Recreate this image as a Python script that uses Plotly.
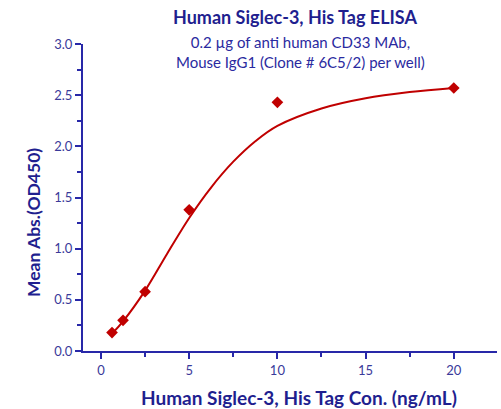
import plotly.graph_objects as go

# Measured data points
conc = [0.625, 1.25, 2.5, 5, 10, 20]
od450 = [0.18, 0.30, 0.58, 1.38, 2.43, 2.57]

# Fitted curve
fit_x = [0.625, 1.25, 2.5, 3.75, 5, 6.25, 7.5, 8.75, 10, 12.5, 15, 17.5, 20]
fit_y = [0.17, 0.29, 0.59, 0.95, 1.30, 1.60, 1.85, 2.05, 2.20, 2.37, 2.47, 2.53, 2.57]

x_ticks = [0, 5, 10, 15, 20]
y_ticks = [0.0, 0.5, 1.0, 1.5, 2.0, 2.5, 3.0]

navy = "#1f1f8f"
axis_blue = "#2828a8"
red = "#c00000"
font = "Lato"

W, H = 501, 409
l, r, t, b = 83, 4, 44, 58
pw, ph = W - l - r, H - t - b
def px(xp): return (xp - l) / pw
def py(yp): return (H - b - yp) / ph

fig = go.Figure()
fig.add_trace(go.Scatter(x=fit_x, y=fit_y, mode="lines",
                         line=dict(color=red, width=2, shape="spline", smoothing=1.0),
                         hoverinfo="skip", showlegend=False))
fig.add_trace(go.Scatter(x=conc, y=od450, mode="markers",
                         marker=dict(symbol="diamond", size=9, color=red),
                         showlegend=False))

fig.update_layout(
    width=W, height=H,
    margin=dict(l=l, r=r, t=t, b=b, autoexpand=False),
    paper_bgcolor="white", plot_bgcolor="white",
    font=dict(family=font, color=navy),
)
fig.add_annotation(text="<b>Human Siglec-3, His Tag ELISA</b>", x=px(295), y=py(17),
                   xref="paper", yref="paper", xanchor="center", yanchor="middle",
                   showarrow=False, font=dict(size=18, color=navy, family=font))
fig.add_annotation(text="0.2 µg of anti human CD33 MAb,<br>Mouse IgG1 (Clone # 6C5/2) per well)",
                   x=px(300), y=py(52), xref="paper", yref="paper", xanchor="center", yanchor="middle",
                   showarrow=False, align="center",
                   font=dict(size=15, color="#2a2aa0", family=font))
fig.add_annotation(text="<b>Human Siglec-3, His Tag Con. (ng/mL)</b>", x=px(299), y=py(397),
                   xref="paper", yref="paper", xanchor="center", yanchor="middle",
                   showarrow=False, font=dict(size=19, color=navy, family=font))
fig.add_annotation(text="<b>Mean Abs.(OD450)</b>", x=px(33), y=py(223), textangle=-90,
                   xref="paper", yref="paper", xanchor="center", yanchor="middle",
                   showarrow=False, font=dict(size=17.5, color=navy, family=font))

fig.update_xaxes(
    range=[-1.02, 22.45], tickvals=x_ticks, ticktext=[str(v) for v in x_ticks],
    showgrid=False, zeroline=False, showline=True, linecolor=axis_blue, linewidth=2,
    ticks="outside", ticklen=6, tickwidth=2, tickcolor=axis_blue,
    tickfont=dict(size=13, color="#3a3a9a", family=font),
    minor=dict(dtick=2.5, tick0=0, ticks="outside", ticklen=4, tickwidth=2, tickcolor=axis_blue),
)
fig.update_yaxes(
    range=[0, 3.0], tickvals=y_ticks, ticktext=[f"{v:.1f}" for v in y_ticks],
    showgrid=False, zeroline=False, showline=True, linecolor=axis_blue, linewidth=2,
    ticks="outside", ticklen=6, tickwidth=2, tickcolor=axis_blue,
    tickfont=dict(size=13, color="#3a3a9a", family=font),
    minor=dict(dtick=0.25, tick0=0, ticks="outside", ticklen=4, tickwidth=2, tickcolor=axis_blue),
)

fig.write_html("out.html", config={"displayModeBar": False},
               post_script="document.body.style.margin='0px';")
